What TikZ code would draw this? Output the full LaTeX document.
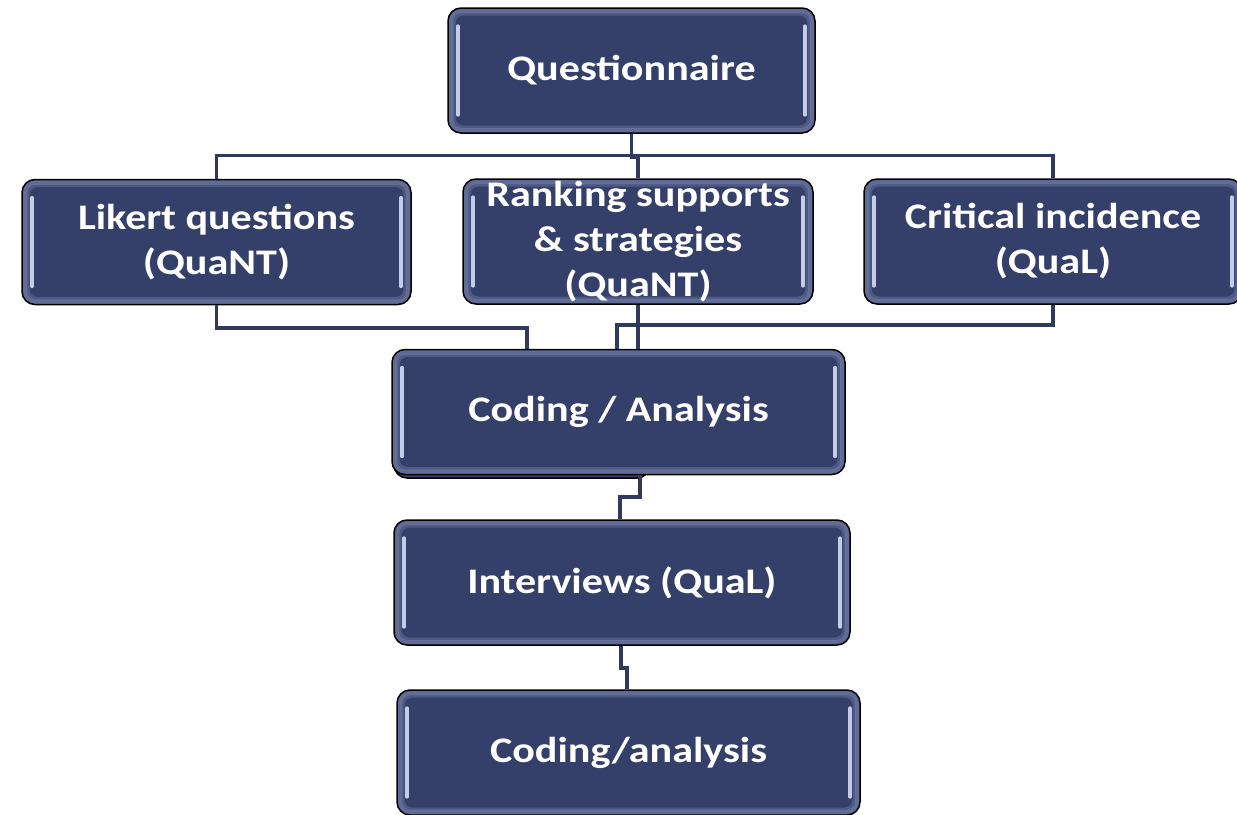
\documentclass[tikz,border=0pt]{standalone}
\usepackage{fontspec}
\setmainfont{Carlito}[FakeStretch=1.17]
\begin{document}
\begin{tikzpicture}[x=1pt,y=-1pt,
  boxfill/.style={draw=black,line width=1.5pt,rounded corners=13pt,fill=boxblue},
  gbox/.style={boxfill,minimum width=#1,inner sep=0pt,minimum height=125pt,
    path picture={
      \draw[line width=5pt,draw=edgeblue,opacity=0.5,rounded corners=11pt]
        ([shift={(2.5pt,-2.5pt)}]path picture bounding box.north west) rectangle ([shift={(-2.5pt,2.5pt)}]path picture bounding box.south east);
      \draw[line width=3pt,draw=edgeblue,opacity=0.3,rounded corners=9pt]
        ([shift={(6pt,-6pt)}]path picture bounding box.north west) rectangle ([shift={(-6pt,6pt)}]path picture bounding box.south east);
      \draw[line width=3.2pt,draw=barblue,line cap=round]
        ([shift={(10pt,-18pt)}]path picture bounding box.north west) -- ([shift={(10pt,18pt)}]path picture bounding box.south west);
      \draw[line width=3.2pt,draw=barblue,line cap=round]
        ([shift={(-10pt,-18pt)}]path picture bounding box.north east) -- ([shift={(-10pt,18pt)}]path picture bounding box.south east);
    }},
  txt/.style={text=white,align=center,font=\fontsize{36}{45}\selectfont\bfseries,inner sep=0pt},
  conn/.style={draw=lineblue,line width=3.5pt}]
\definecolor{boxblue}{HTML}{35406A}
\definecolor{edgeblue}{HTML}{8C98C0}
\definecolor{barblue}{HTML}{C3CCE8}
\definecolor{lineblue}{HTML}{2F3A5E}
\useasboundingbox (0,0) rectangle (1237,814);
\fill[white] (0,0) rectangle (1237,814);

\node[gbox=367pt] (Q) at (631.5,70.5) {};
\node[gbox=389pt] (L) at (216.5,242) {};
\node[gbox=350pt] (R) at (638,241.5) {};
\node[gbox=378pt] (C) at (1053,241.5) {};
\node[boxfill,minimum width=256pt,minimum height=126pt] (CAs) at (522,415) {};
\node[gbox=453pt] (CA) at (618.5,412) {};
\node[gbox=456pt] (I) at (622,582.5) {};
\node[gbox=463pt] (CA2) at (628.5,752.5) {};

\draw[conn] (Q.south) |- (L.north |- 0,155.5) -- (L.north);
\draw[conn] (Q.south) |- (C.north |- 0,155.5) -- (C.north);
\draw[conn] (Q.south) |- (R.north |- 0,157) -- (R.north);

\draw[conn] (L.south) |- (527,328) -- (527,0 |- CA.north);
\draw[conn] (R.south) -- (R.south |- CA.north);
\draw[conn] (C.south) |- (617,325) -- (617,0 |- CA.north);

\draw[conn] (640,0 |- CA.south) -- (640,497) -| (620,0 |- I.north);
\draw[conn] (621,0 |- I.south) |- (627,668) -- (627,0 |- CA2.north);

\node[txt] (Qt) at (Q) {Questionnaire};
\node[txt] (Lt) at (L) {Likert questions\\(QuaNT)};
\node[txt] (Rt) at (R) {Ranking supports\\\& strategies\\(QuaNT)};
\node[txt] (Ct) at (C) {Critical incidence\\(QuaL)};
\node[txt] (CAt) at (CA) {Coding / Analysis};
\node[txt] (It) at (I) {Interviews (QuaL)};
\node[txt] (CA2t) at (CA2) {Coding/analysis};
\end{tikzpicture}
\end{document}
